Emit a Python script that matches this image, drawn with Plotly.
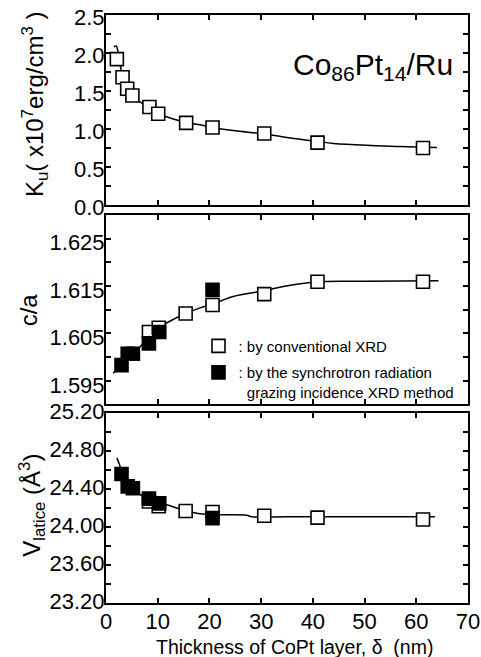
import plotly.graph_objects as go
from plotly.subplots import make_subplots

# ---------------- data ----------------
# Ku panel (open squares, conventional XRD)
ku_x = [2.1, 3.2, 4.1, 5.1, 8.4, 10.1, 15.5, 20.6, 30.6, 40.9, 61.3]
ku_y = [1.92, 1.68, 1.53, 1.44, 1.29, 1.20, 1.08, 1.02, 0.94, 0.82, 0.75]
ku_fit_x = [1.5, 2.0, 2.3, 2.6, 3.2, 4.1, 5.1, 6.5, 8.4, 10.1, 11.7, 15.5, 18.2,
            20.6, 24.6, 30.6, 34.3, 40.9, 44.0, 50.4, 56.9, 61.3, 64.0]
ku_fit_y = [2.08, 2.09, 2.02, 1.90, 1.70, 1.55, 1.44, 1.36, 1.28, 1.20, 1.16, 1.085,
            1.055, 1.02, 0.98, 0.935, 0.895, 0.835, 0.81, 0.785, 0.77, 0.76, 0.755]

# c/a panel
ca_open_x = [8.3, 10.2, 15.4, 20.6, 30.6, 40.9, 61.3]
ca_open_y = [1.6053, 1.6062, 1.6092, 1.6110, 1.6133, 1.6159, 1.6159]
ca_fill_x = [3.0, 4.2, 5.2, 8.3, 10.3, 20.6]
ca_fill_y = [1.5983, 1.6007, 1.6007, 1.6029, 1.6053, 1.6142]
ca_fit_x = [1.4, 3.0, 4.5, 6.6, 8.3, 10.2, 11.7, 15.4, 18.2, 20.6, 24.6, 30.6,
            34.3, 40.9, 50.0, 64.3]
ca_fit_y = [1.5966, 1.5985, 1.6003, 1.6022, 1.6045, 1.6062, 1.6072, 1.6092, 1.6104,
            1.6112, 1.6128, 1.6140, 1.6149, 1.6159, 1.6160, 1.6161]

# V lattice panel
v_open_x = [8.3, 10.2, 15.4, 20.6, 30.6, 40.9, 61.3]
v_open_y = [24.27, 24.22, 24.17, 24.16, 24.12, 24.10, 24.08]
v_fill_x = [3.0, 4.2, 5.2, 8.3, 10.3, 20.6]
v_fill_y = [24.56, 24.43, 24.41, 24.30, 24.25, 24.095]
v_fit_x = [2.1, 2.6, 3.0, 4.2, 5.2, 8.3, 10.3, 11.7, 14.3, 18.2, 22.0, 27.2,
           28.2, 35.0, 45.0, 63.6]
v_fit_y = [24.73, 24.66, 24.60, 24.47, 24.40, 24.29, 24.24, 24.235, 24.19, 24.14,
           24.13, 24.125, 24.11, 24.11, 24.11, 24.11]

# ticks
x_ticks = [0, 10, 20, 30, 40, 50, 60, 70]
x_ticklabels = ["0", "10", "20", "30", "40", "50", "60", "70"]
ku_ticks = [0, 0.25, 0.5, 0.75, 1.0, 1.25, 1.5, 1.75, 2.0, 2.25, 2.5]
ku_ticklabels = ["0.0", " ", "0.5", " ", "1.0", " ", "1.5", " ", "2.0", " ", "2.5"]
ca_ticks = [1.590, 1.595, 1.600, 1.605, 1.610, 1.615, 1.620, 1.625, 1.630]
ca_ticklabels = [" ", "1.595", " ", "1.605", " ", "1.615", " ", "1.625", " "]
v_ticks = [23.2, 23.4, 23.6, 23.8, 24.0, 24.2, 24.4, 24.6, 24.8, 25.0, 25.2]
v_ticklabels = ["23.20", " ", "23.60", " ", "24.00", " ", "24.40", " ", "24.80", " ", "25.20"]

FONT = "Liberation Sans, Arial, Helvetica, sans-serif"

fig = make_subplots(rows=3, cols=1, shared_xaxes=True, vertical_spacing=0.02)

line_style = dict(color="black", width=1.5)
open_marker = dict(symbol="square", size=13, color="white", line=dict(color="black", width=1.6))
fill_marker = dict(symbol="square", size=13, color="black", line=dict(color="black", width=1.6))

# fit lines
fig.add_trace(go.Scatter(x=ku_fit_x, y=ku_fit_y, mode="lines", line=line_style,
                         line_shape="spline", showlegend=False, hoverinfo="skip"), row=1, col=1)
fig.add_trace(go.Scatter(x=ca_fit_x, y=ca_fit_y, mode="lines", line=line_style,
                         line_shape="spline", showlegend=False, hoverinfo="skip"), row=2, col=1)
fig.add_trace(go.Scatter(x=v_fit_x, y=v_fit_y, mode="lines", line=line_style,
                         line_shape="spline", showlegend=False, hoverinfo="skip"), row=3, col=1)

# markers
fig.add_trace(go.Scatter(x=ku_x, y=ku_y, mode="markers", marker=open_marker,
                         name=": by conventional XRD", legendgroup="a", showlegend=True), row=1, col=1)
fig.add_trace(go.Scatter(x=ca_open_x, y=ca_open_y, mode="markers", marker=open_marker,
                         legendgroup="a", showlegend=False), row=2, col=1)
fig.add_trace(go.Scatter(x=ca_fill_x, y=ca_fill_y, mode="markers", marker=fill_marker,
                         name=": by the synchrotron radiation<br>\u00a0\u00a0grazing incidence XRD method",
                         legendgroup="b", showlegend=True), row=2, col=1)
fig.add_trace(go.Scatter(x=v_open_x, y=v_open_y, mode="markers", marker=open_marker,
                         legendgroup="a", showlegend=False), row=3, col=1)
fig.add_trace(go.Scatter(x=v_fill_x, y=v_fill_y, mode="markers", marker=fill_marker,
                         legendgroup="b", showlegend=False), row=3, col=1)

axis_common = dict(showline=True, linecolor="black", linewidth=2, mirror="ticks",
                   ticks="inside", ticklen=5, tickwidth=1.5, tickcolor="black",
                   showgrid=False, zeroline=False, automargin=False,
                   ticklabeloverflow="allow",
                   tickfont=dict(family=FONT, size=22, color="black"))

for r in (1, 2, 3):
    fig.update_xaxes(range=[0, 70], tickmode="array", tickvals=x_ticks, ticktext=x_ticklabels,
                     row=r, col=1, **axis_common)
fig.update_xaxes(showticklabels=True, ticklabelstandoff=-2, row=3, col=1)

fig.update_yaxes(range=[0, 2.5], tickmode="array", tickvals=ku_ticks, ticktext=ku_ticklabels,
                 domain=[0.6769, 1.0], row=1, col=1, ticklabelshift=2, ticklabelstandoff=-5,
                 **axis_common)
fig.update_yaxes(range=[1.590, 1.630], tickmode="array", tickvals=ca_ticks, ticktext=ca_ticklabels,
                 domain=[0.3376, 0.6599], row=2, col=1, ticklabelshift=4, ticklabelstandoff=-5,
                 **axis_common)
fig.update_yaxes(range=[23.2, 25.2], tickmode="array", tickvals=v_ticks, ticktext=v_ticklabels,
                 domain=[0.0, 0.3226], row=3, col=1, ticklabelshift=-2, ticklabelstandoff=-5,
                 **axis_common)

annotations = [
    dict(text="K<sub>u</sub>( x10<sup>7</sup>erg/cm<sup>3</sup> )", x=-0.196, y=0.847,
         textangle=-90, font=dict(size=24)),
    dict(text="c/a", x=-0.215, y=0.498, textangle=-90, font=dict(size=24)),
    dict(text="V<sub>latice</sub> (Å<sup>3</sup>)", x=-0.205, y=0.1667, textangle=-90,
         font=dict(size=24)),
    dict(text="Co<sub>86</sub>Pt<sub>14</sub>/Ru", x=0.964, y=0.912, xanchor="right",
         font=dict(size=30)),
    dict(text="Thickness of CoPt layer, δ  (nm)", x=0.52, y=-0.075, yanchor="middle",
         font=dict(size=19.5)),
]
for a in annotations:
    a.setdefault("xref", "paper")
    a.setdefault("yref", "paper")
    a.setdefault("showarrow", False)
    a.setdefault("xanchor", "center")
    a.setdefault("yanchor", "middle")
    a["font"] = dict(family=FONT, color="black", **a["font"])
fig.update_layout(annotations=annotations)

fig.update_layout(
    width=481, height=657,
    margin=dict(l=106, r=13, t=15, b=54, autoexpand=False),
    paper_bgcolor="white", plot_bgcolor="white",
    font=dict(family=FONT, color="black"),
    showlegend=True,
    legend=dict(x=0.2555, y=0.465, xanchor="left", yanchor="top",
                bgcolor="rgba(0,0,0,0)", borderwidth=0,
                font=dict(family=FONT, size=15, color="black"),
                valign="top", tracegroupgap=4, traceorder="grouped",
                itemclick=False),
)

fig.write_html("out.html", config={"displayModeBar": False},
               post_script="document.body.style.margin='0px';document.body.style.overflow='hidden';")
